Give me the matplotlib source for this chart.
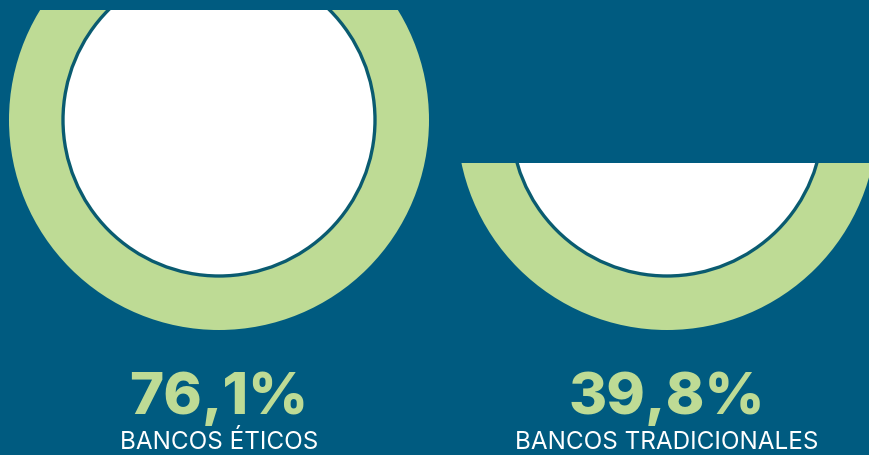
import matplotlib.pyplot as plt
from matplotlib.patches import Circle, Rectangle

# datos
categorias = ["BANCOS ÉTICOS", "BANCOS TRADICIONALES"]
valores = [76.1, 39.8]
etiquetas = ["76,1%", "39,8%"]

# colores
fondo = "#005B80"
verde = "#BEDB95"
borde = "#0A5B70"

fig = plt.figure(figsize=(8.7, 4.55), dpi=100)
fig.patch.set_facecolor(fondo)
ax = fig.add_axes([0, 0, 1, 1])
ax.set_facecolor(fondo)
ax.set_xlim(0, 870)
ax.set_ylim(455, 0)
ax.axis("off")

centros_x = [219, 667]
cy = 120
R = 210
r = 156

for cx, v, et, cat in zip(centros_x, valores, etiquetas, categorias):
    # nivel de llenado desde abajo
    base = cy + R
    tope = base - v / 100 * 2 * R
    clip = Rectangle((cx - R - 5, tope), 2 * R + 10, base - tope + 5,
                     transform=ax.transData, facecolor="none", edgecolor="none")
    ax.add_patch(clip)

    ext = Circle((cx, cy), R, facecolor=verde, edgecolor="none")
    inn = Circle((cx, cy), r, facecolor="white", edgecolor=borde, linewidth=2.4)
    for p in (ext, inn):
        ax.add_patch(p)
        p.set_clip_path(clip)

    ax.text(cx, 414, et, ha="center", va="baseline", color=verde,
            fontsize=42, fontweight="heavy", family="Inter")
    ax.text(cx, 449, cat, ha="center", va="baseline", color="white",
            fontsize=17.5, family="Inter")

plt.savefig("out.png", dpi=100, facecolor=fondo)
